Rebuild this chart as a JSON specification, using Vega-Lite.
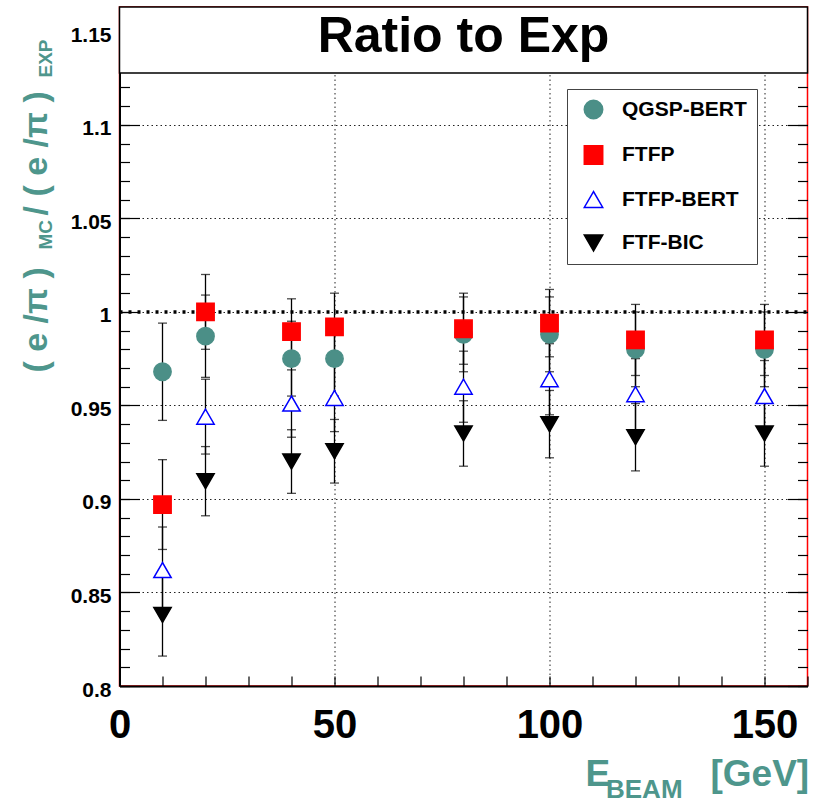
{
  "$schema": "https://vega.github.io/schema/vega-lite/v6.json",
  "width": 688,
  "height": 679,
  "autosize": {"type": "none"},
  "padding": {"left": 119.5, "top": 7, "right": 14.5, "bottom": 118},
  "background": "white",
  "config": {
    "font": "Liberation Sans",
    "view": {"stroke": "#ff0000", "strokeWidth": 1.5},
    "axis": {"labelFont": "Liberation Sans", "titleFont": "Liberation Sans", "labelFontWeight": "bold", "titleFontWeight": "bold", "labelColor": "black", "titleColor": "#4e968c", "tickColor": "black", "tickWidth": 1.2, "domainColor": "black", "gridColor": "#222222", "gridDash": [1.5, 3], "gridWidth": 1, "labelFlush": false, "labelOverlap": false},
    "legend": {"orient": "none", "legendX": 447.5, "legendY": 82, "fillColor": "white", "strokeColor": "#444444", "padding": 10, "rowPadding": 20.5, "symbolOffset": 6, "labelOffset": 18, "labelFont": "Liberation Sans", "labelFontSize": 21, "labelFontWeight": "bold", "labelColor": "black", "symbolSize": 340, "symbolStrokeWidth": 1.5, "labelLimit": 300}
  },
  "datasets": {
    "pts": [
      {"model": "QGSP-BERT", "E": 10, "v": 0.968, "lo": 0.942, "hi": 0.994},
      {"model": "QGSP-BERT", "E": 20, "v": 0.987, "lo": 0.965, "hi": 1.009},
      {"model": "QGSP-BERT", "E": 40, "v": 0.975, "lo": 0.955, "hi": 0.995},
      {"model": "QGSP-BERT", "E": 50, "v": 0.975, "lo": 0.955, "hi": 0.995},
      {"model": "QGSP-BERT", "E": 80, "v": 0.988, "lo": 0.968, "hi": 1.008},
      {"model": "QGSP-BERT", "E": 100, "v": 0.988, "lo": 0.968, "hi": 1.008},
      {"model": "QGSP-BERT", "E": 120, "v": 0.98, "lo": 0.96, "hi": 1.0},
      {"model": "QGSP-BERT", "E": 150, "v": 0.98, "lo": 0.96, "hi": 1.0},
      {"model": "FTFP", "E": 10, "v": 0.897, "lo": 0.873, "hi": 0.921},
      {"model": "FTFP", "E": 20, "v": 1.0, "lo": 0.98, "hi": 1.02},
      {"model": "FTFP", "E": 40, "v": 0.9895, "lo": 0.972, "hi": 1.007},
      {"model": "FTFP", "E": 50, "v": 0.992, "lo": 0.974, "hi": 1.01},
      {"model": "FTFP", "E": 80, "v": 0.991, "lo": 0.972, "hi": 1.01},
      {"model": "FTFP", "E": 100, "v": 0.994, "lo": 0.976, "hi": 1.012},
      {"model": "FTFP", "E": 120, "v": 0.985, "lo": 0.966, "hi": 1.004},
      {"model": "FTFP", "E": 150, "v": 0.985, "lo": 0.966, "hi": 1.004},
      {"model": "FTFP-BERT", "E": 10, "v": 0.862, "lo": 0.84, "hi": 0.885},
      {"model": "FTFP-BERT", "E": 20, "v": 0.944, "lo": 0.924, "hi": 0.964},
      {"model": "FTFP-BERT", "E": 40, "v": 0.951, "lo": 0.933, "hi": 0.969},
      {"model": "FTFP-BERT", "E": 50, "v": 0.954, "lo": 0.936, "hi": 0.972},
      {"model": "FTFP-BERT", "E": 80, "v": 0.96, "lo": 0.941, "hi": 0.979},
      {"model": "FTFP-BERT", "E": 100, "v": 0.964, "lo": 0.945, "hi": 0.983},
      {"model": "FTFP-BERT", "E": 120, "v": 0.956, "lo": 0.937, "hi": 0.975},
      {"model": "FTFP-BERT", "E": 150, "v": 0.955, "lo": 0.936, "hi": 0.974},
      {"model": "FTF-BIC", "E": 10, "v": 0.838, "lo": 0.816, "hi": 0.86},
      {"model": "FTF-BIC", "E": 20, "v": 0.9095, "lo": 0.891, "hi": 0.928},
      {"model": "FTF-BIC", "E": 40, "v": 0.92, "lo": 0.903, "hi": 0.937},
      {"model": "FTF-BIC", "E": 50, "v": 0.9255, "lo": 0.9085, "hi": 0.9425},
      {"model": "FTF-BIC", "E": 80, "v": 0.935, "lo": 0.9175, "hi": 0.9525},
      {"model": "FTF-BIC", "E": 100, "v": 0.94, "lo": 0.922, "hi": 0.958},
      {"model": "FTF-BIC", "E": 120, "v": 0.933, "lo": 0.915, "hi": 0.951},
      {"model": "FTF-BIC", "E": 150, "v": 0.935, "lo": 0.9175, "hi": 0.9525}
    ],
    "one": [{"label": "Ratio to Exp"}]
  },
  "resolve": {"axis": {"x": "independent", "y": "independent"}},
  "layer": [
    {
      "data": {"name": "one"},
      "mark": {"type": "rule", "strokeWidth": 3.5, "strokeDash": [3, 6], "color": "black"},
      "encoding": {
        "x": {"datum": 0, "type": "quantitative", "scale": {"domain": [0, 160], "nice": false, "zero": false},
          "axis": {"orient": "bottom", "values": [0, 50, 100, 150], "format": "d", "ticks": false, "labelFontSize": 40, "labelPadding": 19, "grid": true, "domain": true, "domainWidth": 2,
            "title": "E", "titleX": 465.5, "titleY": 99, "titleAlign": "left", "titleBaseline": "alphabetic", "titleAngle": 0, "titleFontSize": 37}},
        "x2": {"datum": 160},
        "y": {"datum": 1, "type": "quantitative", "scale": {"domain": [0.8, 1.163], "nice": false, "zero": false},
          "axis": {"orient": "left", "values": [0.8, 0.85, 0.9, 0.95, 1.0, 1.05, 1.1, 1.15], "format": "~g", "ticks": false, "labelFontSize": 21, "labelPadding": 8.5, "labelOffset": 4, "grid": true, "domain": true, "domainWidth": 2,
            "title": "( e /π )", "titleX": -73, "titleY": 365, "titleAngle": 270, "titleAlign": "left", "titleBaseline": "alphabetic", "titleFontSize": 34}}
      }
    },
    {
      "data": {"name": "pts"},
      "mark": {"type": "errorbar", "ticks": true, "size": 9, "thickness": 1.3, "color": "black"},
      "encoding": {
        "x": {"field": "E", "type": "quantitative", "scale": {"domain": [0, 160], "nice": false, "zero": false},
          "axis": {"orient": "bottom", "values": [0, 10, 20, 30, 40, 50, 60, 70, 80, 90, 100, 110, 120, 130, 140, 150, 160], "ticks": true, "tickSize": -10, "labels": false, "domain": false, "grid": false,
            "title": "BEAM", "titleX": 486, "titleY": 111, "titleAlign": "left", "titleBaseline": "alphabetic", "titleAngle": 0, "titleFontSize": 26}},
        "y": {"field": "lo", "type": "quantitative", "scale": {"domain": [0.8, 1.163], "nice": false, "zero": false},
          "axis": {"orient": "left", "values": [0.8, 0.85, 0.9, 0.95, 1.0, 1.05, 1.1, 1.15], "ticks": true, "tickSize": -20, "labels": false, "domain": false, "grid": false,
            "title": "MC", "titleX": -68.5, "titleY": 242, "titleAngle": 270, "titleAlign": "left", "titleBaseline": "alphabetic", "titleFontSize": 19}},
        "y2": {"field": "hi"}
      }
    },
    {
      "data": {"name": "pts"},
      "mark": {"type": "point", "filled": true, "strokeWidth": 1.5, "opacity": 1},
      "encoding": {
        "x": {"field": "E", "type": "quantitative", "scale": {"domain": [0, 160], "nice": false, "zero": false},
          "axis": {"orient": "bottom", "ticks": false, "labels": false, "domain": false, "grid": false,
            "title": "[GeV]", "titleX": 590.5, "titleY": 99, "titleAlign": "left", "titleBaseline": "alphabetic", "titleAngle": 0, "titleFontSize": 37}},
        "y": {"field": "v", "type": "quantitative", "scale": {"domain": [0.8, 1.163], "nice": false, "zero": false},
          "axis": {"orient": "left", "values": [0.8, 0.81, 0.82, 0.83, 0.84, 0.85, 0.86, 0.87, 0.88, 0.89, 0.9, 0.91, 0.92, 0.93, 0.94, 0.95, 0.96, 0.97, 0.98, 0.99, 1.0, 1.01, 1.02, 1.03, 1.04, 1.05, 1.06, 1.07, 1.08, 1.09, 1.1, 1.11, 1.12, 1.13, 1.14, 1.15, 1.16], "ticks": true, "tickSize": -10, "labels": false, "domain": false, "grid": false,
            "title": "/ ( e /π )", "titleX": -73, "titleY": 208, "titleAngle": 270, "titleAlign": "left", "titleBaseline": "alphabetic", "titleFontSize": 34}},
        "shape": {"field": "model", "type": "nominal", "title": null, "scale": {"domain": ["QGSP-BERT", "FTFP", "FTFP-BERT", "FTF-BIC"], "range": ["circle", "square", "triangle-up", "triangle-down"]}},
        "fill": {"field": "model", "type": "nominal", "title": null, "scale": {"domain": ["QGSP-BERT", "FTFP", "FTFP-BERT", "FTF-BIC"], "range": ["#4b8f87", "#ff0000", "#ffffff", "#000000"]}},
        "stroke": {"field": "model", "type": "nominal", "title": null, "scale": {"domain": ["QGSP-BERT", "FTFP", "FTFP-BERT", "FTF-BIC"], "range": ["#4b8f87", "#ff0000", "#0000ff", "#000000"]}},
        "size": {"value": 300}
      }
    },
    {
      "data": {"name": "one"},
      "mark": {"type": "rect", "fill": "white", "stroke": "black", "strokeWidth": 1.5},
      "encoding": {
        "x": {"datum": 0, "type": "quantitative", "scale": {"domain": [0, 160], "nice": false, "zero": false}, "axis": null},
        "x2": {"datum": 160},
        "y": {"datum": 1.1277, "type": "quantitative", "scale": {"domain": [0.8, 1.163], "nice": false, "zero": false},
          "axis": {"orient": "right", "values": [0.8, 0.85, 0.9, 0.95, 1.0, 1.05, 1.1, 1.15], "ticks": true, "tickSize": -20, "labels": false, "domain": false, "grid": false,
            "title": "EXP", "titleX": -756.5, "titleY": 70, "titleAngle": 270, "titleAlign": "left", "titleBaseline": "alphabetic", "titleFontSize": 19}},
        "y2": {"datum": 1.163}
      }
    },
    {
      "data": {"name": "one"},
      "mark": {"type": "text", "font": "Liberation Sans", "fontWeight": "bold", "fontSize": 50, "align": "center", "baseline": "alphabetic", "color": "black"},
      "encoding": {
        "text": {"field": "label"},
        "x": {"datum": 80, "type": "quantitative", "scale": {"domain": [0, 160], "nice": false, "zero": false}, "axis": null},
        "y": {"datum": 1.139, "type": "quantitative", "scale": {"domain": [0.8, 1.163], "nice": false, "zero": false},
          "axis": {"orient": "right", "values": [0.8, 0.81, 0.82, 0.83, 0.84, 0.85, 0.86, 0.87, 0.88, 0.89, 0.9, 0.91, 0.92, 0.93, 0.94, 0.95, 0.96, 0.97, 0.98, 0.99, 1.0, 1.01, 1.02, 1.03, 1.04, 1.05, 1.06, 1.07, 1.08, 1.09, 1.1, 1.11, 1.12, 1.13, 1.14, 1.15, 1.16], "ticks": true, "tickSize": -10, "labels": false, "domain": false, "grid": false, "title": null}}
      }
    }
  ]
}
